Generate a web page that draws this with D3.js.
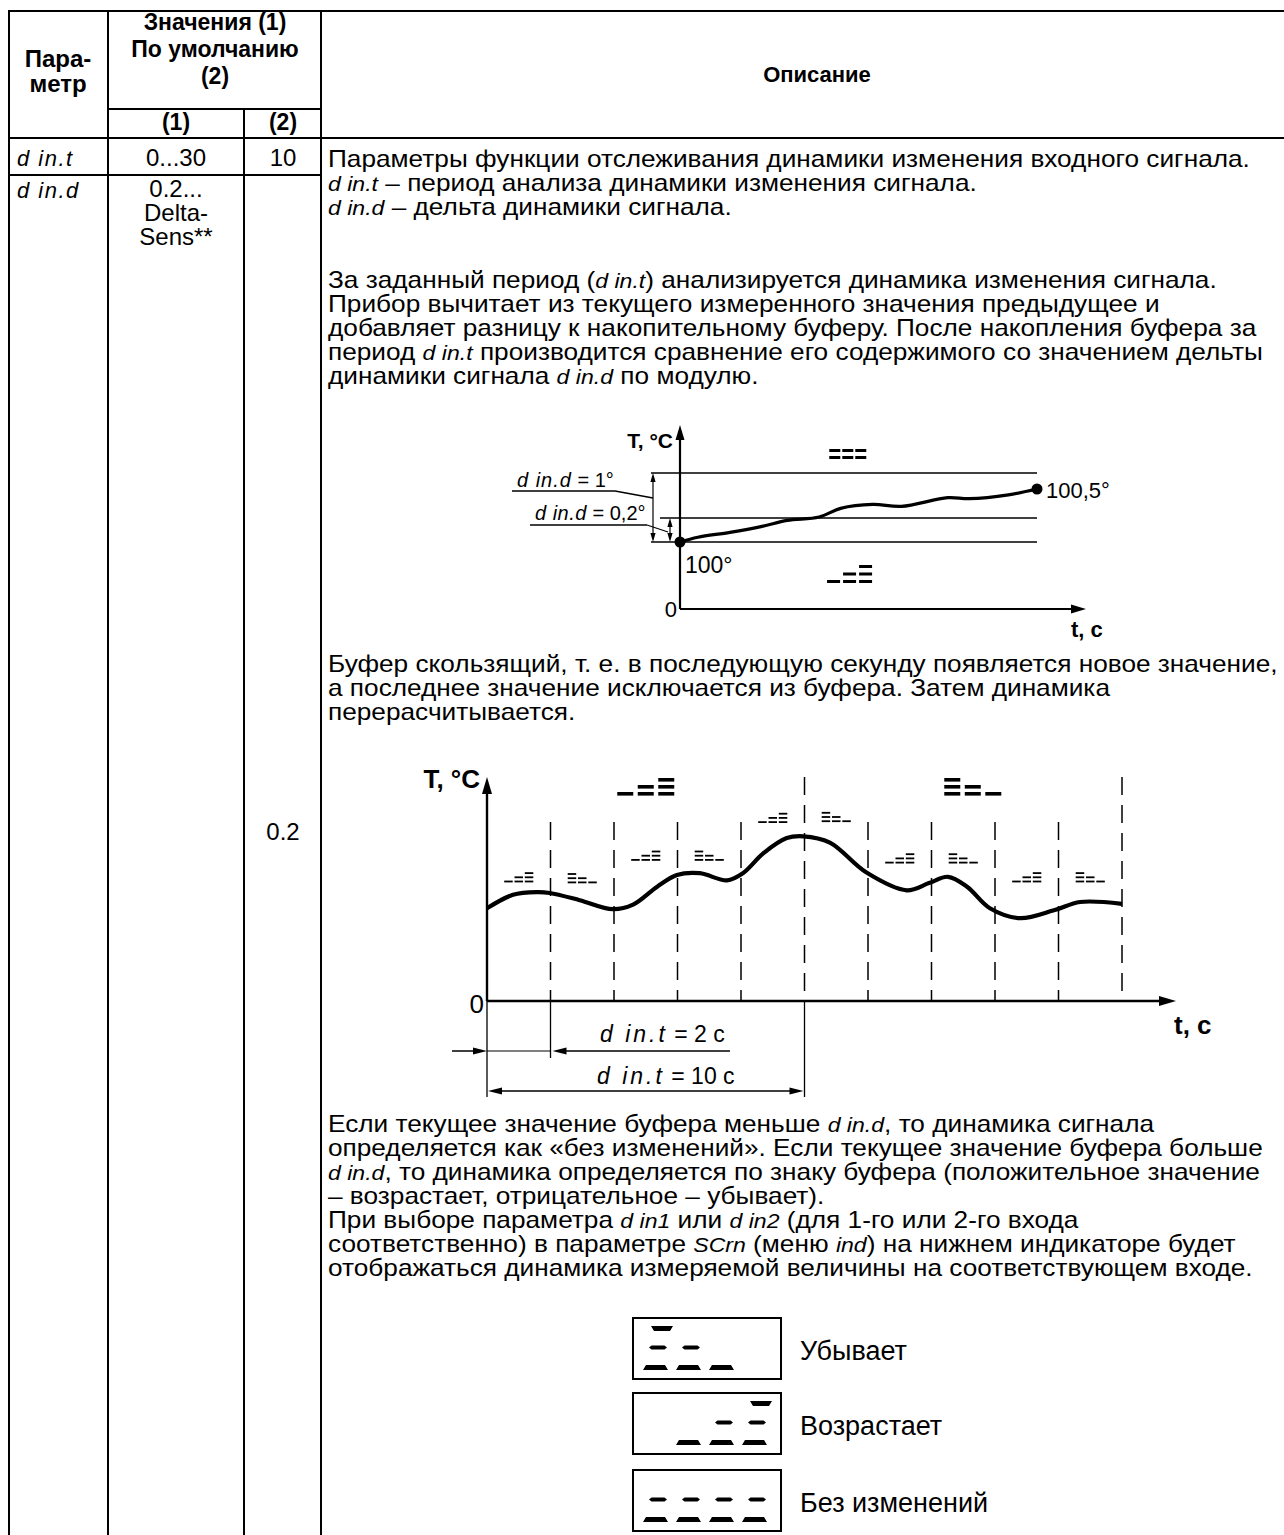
<!DOCTYPE html>
<html><head><meta charset="utf-8">
<script src="https://cdn.jsdelivr.net/npm/d3@7"></script>
<style>
body{margin:0;background:#fff}
svg{display:block}
text{font-family:"Liberation Sans",Arial,sans-serif;fill:#000}
</style>
</head><body>
<svg id="c" width="1284" height="1535"></svg>
<script>
// ---------------- DATA ----------------
const headerParam = ["Пара-", "метр"];
const headerValues = ["Значения (1)", "По умолчанию", "(2)"];
const subHeaders = ["(1)", "(2)"];
const descHeader = "Описание";
const paramNames = ["d in.t", "d in.d"];
const paramRanges = [["0...30"], ["0.2...", "Delta-", "Sens**"]];
const paramDefaults = ["10", "0.2"];

const descPara1 = [
  "Параметры функции отслеживания динамики изменения входного сигнала.",
  "{d in.t} – период анализа динамики изменения сигнала.",
  "{d in.d} – дельта динамики сигнала."
];
const descPara2 = [
  "За заданный период ({d in.t}) анализируется динамика изменения сигнала.",
  "Прибор вычитает из текущего измеренного значения предыдущее и",
  "добавляет разницу к накопительному буферу. После накопления буфера за",
  "период {d in.t} производится сравнение его содержимого со значением дельты",
  "динамики сигнала {d in.d} по модулю."
];
const descMiddle = [
  "Буфер скользящий, т. е. в последующую секунду появляется новое значение,",
  "а последнее значение исключается из буфера. Затем динамика",
  "перерасчитывается."
];
const descEnd = [
  "Если текущее значение буфера меньше {d in.d}, то динамика сигнала",
  "определяется как «без изменений». Если текущее значение буфера больше",
  "{d in.d}, то динамика определяется по знаку буфера (положительное значение",
  "– возрастает, отрицательное – убывает).",
  "При выборе параметра {d in1} или {d in2} (для 1-го или 2-го входа",
  "соответственно) в параметре {SCrn} (меню {ind}) на нижнем индикаторе будет",
  "отображаться динамика измеряемой величины на соответствующем входе."
];

// Diagram 1: signal from 100° to 100.5°, thresholds
const d1Time = [0, 0.5, 1.4, 2.3, 3.0, 3.9, 4.5, 5.4, 6.2, 7.5, 8.1, 9.2, 10];
const d1Temp = [100, 100.04, 100.08, 100.13, 100.18, 100.21, 100.3, 100.34, 100.32, 100.41, 100.40, 100.44, 100.5];
const d1Thresholds = [101, 100.2, 100];
const d1Labels = ["{d in.d} = 1°", "{d in.d} = 0,2°"];
const d1StartLabel = "100°";
const d1EndLabel = "100,5°";

// Diagram 2: sliding buffer
const d2Time = [0, 0.41, 0.79, 0.99, 1.46, 1.98, 2.3, 2.68, 2.99, 3.35, 3.78, 4.03, 4.35, 4.72, 4.98, 5.4, 5.97, 6.61, 6.96, 7.26, 7.56, 7.92, 8.39, 8.94, 9.34, 10];
const d2Temp = [10.3, 11.8, 12.1, 12.0, 11.2, 10.2, 10.7, 12.7, 14.0, 14.2, 13.4, 14.2, 16.4, 18.1, 18.3, 17.6, 14.3, 12.3, 13.1, 13.8, 12.7, 10.3, 9.2, 10.1, 11.0, 10.8];
const d2Marks = [1, 2, 3, 4, 5, 6, 7, 8, 9, 10];
const d2TallMarks = [5, 10];
const d2IntervalTrend = ["up", "down", "up", "down", "up", "down", "up", "down", "up", "down"];
const d2IntervalLevel = [13.2, 13.1, 15.6, 15.6, 19.8, 19.9, 15.3, 15.3, 13.2, 13.2];
const d2BigTrend = [{t: 2.5, trend: "up"}, {t: 7.65, trend: "down"}];
const d2Dim = [{from: 0, to: 1, label: "{d in.t} = 2 c"}, {from: 0, to: 5, label: "{d in.t} = 10 c"}];

const legendItems = [
  {label: "Убывает", digits: [["t","m","b"], ["m","b"], ["b"], []]},
  {label: "Возрастает", digits: [[], ["b"], ["m","b"], ["t","m","b"]]},
  {label: "Без изменений", digits: [["m","b"], ["m","b"], ["m","b"], ["m","b"]]}
];
const trendPatterns = {
  up: [["b"], ["m","b"], ["t","m","b"]],
  down: [["t","m","b"], ["m","b"], ["b"]],
  flat: [["m","b"], ["m","b"], ["m","b"]]
};

// ---------------- DRAW ----------------
const svg = d3.select("#c");
svg.append("rect").attr("width", 1284).attr("height", 1535).attr("fill", "#fff");

function addText(g, x, y, str, o = {}) {
  const t = g.append("text")
    .attr("transform", `translate(${x},${y}) scale(${o.sx || 1},1)`)
    .attr("text-anchor", o.anchor || "start")
    .style("font-size", (o.size || 22) + "px")
    .style("font-weight", o.weight || "normal")
    .style("white-space", "pre");
  str.split(/(\{[^}]*\})/).filter(s => s.length).forEach(p => {
    if (p[0] === "{") {
      t.append("tspan").style("font-style", "italic").style("font-weight", "normal")
        .style("font-size", (o.segSize || 0.88) + "em")
        .style("letter-spacing", (o.segLs || 0) + "px")
        .text(p.slice(1, -1));
    } else t.append("tspan").text(p);
  });
  return t;
}
function line(g, x1, y1, x2, y2, w = 1.5) {
  return g.append("line").attr("x1", x1).attr("y1", y1).attr("x2", x2).attr("y2", y2)
    .attr("stroke", "#000").attr("stroke-width", w);
}
function arrowHead(g, x, y, dir, len = 12, hw = 3.5) {
  let p;
  if (dir === "r") p = [[x, y], [x - len, y - hw], [x - len, y + hw]];
  if (dir === "l") p = [[x, y], [x + len, y - hw], [x + len, y + hw]];
  if (dir === "u") p = [[x, y], [x - hw, y + len], [x + hw, y + len]];
  if (dir === "d") p = [[x, y], [x - hw, y - len], [x + hw, y - len]];
  g.append("path").attr("d", "M" + p.map(q => q.join(",")).join("L") + "Z").attr("fill", "#000");
}
function trendIcon(g, cx, top, pattern, cw, gap, th, step) {
  const total = pattern.length * cw + (pattern.length - 1) * gap;
  const x0 = cx - total / 2;
  const off = {t: 0, m: step, b: 2 * step};
  pattern.forEach((segs, i) => {
    segs.forEach(s => {
      g.append("rect").attr("x", x0 + i * (cw + gap)).attr("y", top + off[s])
        .attr("width", cw).attr("height", th).attr("fill", "#000");
    });
  });
}

// calibration of body text width: first line spans 328 -> 1267, the "Буфер" line 328 -> 1280
const BODY = 23;
function natural(s) {
  const p = addText(svg, 0, -100, s, {size: BODY});
  const w = p.node().getComputedTextLength(); p.remove(); return w;
}
const SX = Math.min(939 / natural(descPara1[0]), 950 / natural(descMiddle[0]));

// ---- Table ----
const tbl = svg.append("g");
const TW = 2;
line(tbl, 9, 11, 1284, 11, TW);
line(tbl, 9, 138, 1284, 138, TW);
line(tbl, 108, 109, 321, 109, TW);
line(tbl, 9, 175, 321, 175, TW);
line(tbl, 9, 10, 9, 1535, TW);
line(tbl, 108, 10, 108, 1535, TW);
line(tbl, 244, 109, 244, 1535, TW);
line(tbl, 321, 10, 321, 1535, TW);

headerParam.forEach((s, i) => addText(tbl, 58, 67 + i * 25, s, {size: 24, weight: "bold", anchor: "middle"}));
headerValues.forEach((s, i) => addText(tbl, 215, 30 + i * 27, s, {size: 23, weight: "bold", anchor: "middle"}));
subHeaders.forEach((s, i) => addText(tbl, [176, 283][i], 130, s, {size: 23, weight: "bold", anchor: "middle"}));
addText(tbl, 817, 82, descHeader, {size: 22, weight: "bold", anchor: "middle"});

paramNames.forEach((s, i) => addText(tbl, 17, [166, 198][i], "{" + s + "}", {size: 22, segSize: 1, segLs: 1.5}));
paramRanges.forEach((arr, i) => arr.forEach((s, j) =>
  addText(tbl, 176, [166, 197][i] + j * 24, s, {size: 24, anchor: "middle"})));
addText(tbl, 283, 166, paramDefaults[0], {size: 24, anchor: "middle"});
addText(tbl, 283, 840, paramDefaults[1], {size: 24, anchor: "middle"});

// ---- Body text ----
const body = svg.append("g");
function para(lines, y0) {
  lines.forEach((s, i) => addText(body, 328, y0 + i * 24, s, {size: BODY, sx: SX}));
}
para(descPara1, 167);
para(descPara2, 288);
para(descMiddle, 672);
para(descEnd, 1132);

// ---- Diagram 1 ----
const g1 = svg.append("g");
const x1 = d3.scaleLinear().domain([0, 10]).range([680, 1037]);
const y1 = d3.scaleLinear().domain([100, 100.2, 100.5, 101]).range([542, 518, 489, 473]);
const base1 = 609;
line(g1, x1(0), base1, 1072, base1, 2.2);
arrowHead(g1, 1086, base1, "r", 15, 4.5);
line(g1, x1(0), base1, x1(0), 440, 2.2);
arrowHead(g1, x1(0), 425, "u", 15, 4.5);
const thStart = [651, 660, 651];
d1Thresholds.forEach((v, i) => line(g1, thStart[i], y1(v), x1(10), y1(v), 1.3));
[[653, 101], [670, 100.2]].forEach(([xx, v]) => {
  line(g1, xx, y1(v) + 8, xx, y1(100) - 8, 1.2);
  arrowHead(g1, xx, y1(v), "u", 9, 2.6);
  arrowHead(g1, xx, y1(100), "d", 9, 2.6);
});
line(g1, 512, 491, 615, 491, 1.3); line(g1, 615, 491, 653, 498, 1.3);
line(g1, 530, 525, 647, 525, 1.3); line(g1, 647, 525, 668, 532, 1.3);
addText(g1, 517, 487, d1Labels[0], {size: 20, segSize: 1, segLs: 1});
addText(g1, 535, 520, d1Labels[1], {size: 20, segSize: 1, segLs: 0.5});
const d1Data = d1Time.map((t, i) => [t, d1Temp[i]]);
g1.append("path").datum(d1Data)
  .attr("d", d3.line().x(d => x1(d[0])).y(d => y1(d[1])).curve(d3.curveCatmullRom.alpha(0.5)))
  .attr("fill", "none").attr("stroke", "#000").attr("stroke-width", 3.2);
[d1Data[0], d1Data[d1Data.length - 1]].forEach(d =>
  g1.append("circle").attr("cx", x1(d[0])).attr("cy", y1(d[1])).attr("r", 5.5).attr("fill", "#000"));
addText(g1, 685, 573, d1StartLabel, {size: 23});
addText(g1, 1046, 498, d1EndLabel, {size: 22});
addText(g1, 673, 448, "T, °C", {size: 21, weight: "bold", anchor: "end"});
addText(g1, 677, 617, "0", {size: 22, anchor: "end"});
addText(g1, 1071, 637, "t, c", {size: 22, weight: "bold"});
trendIcon(g1, x1(4.7), y1(101) - 31, trendPatterns.flat, 11, 2, 3, 7);
trendIcon(g1, x1(4.75), y1(100) + 23, trendPatterns.up, 13, 3, 3, 7.5);

// ---- Diagram 2 ----
const g2 = svg.append("g");
const x2 = d3.scaleLinear().domain([0, 10]).range([487, 1122]);
const y2 = d3.scaleLinear().domain([0, 25]).range([1001, 776]);
d2Marks.forEach(t => {
  const top = d2TallMarks.includes(t) ? 777 : 822;
  g2.append("line").attr("x1", x2(t)).attr("x2", x2(t)).attr("y1", top).attr("y2", y2(0))
    .attr("stroke", "#000").attr("stroke-width", 1.5).attr("stroke-dasharray", "18,10");
});
line(g2, x2(0), y2(0), 1160, y2(0), 2.4);
arrowHead(g2, 1176, y2(0), "r", 17, 5);
line(g2, x2(0), y2(0), x2(0), 792, 2.4);
arrowHead(g2, x2(0), 777, "u", 17, 5);
const d2Data = d2Time.map((t, i) => [t, d2Temp[i]]);
g2.append("path").datum(d2Data)
  .attr("d", d3.line().x(d => x2(d[0])).y(d => y2(d[1])).curve(d3.curveCatmullRom.alpha(0.5)))
  .attr("fill", "none").attr("stroke", "#000").attr("stroke-width", 4.2);
d2IntervalTrend.forEach((tr, i) =>
  trendIcon(g2, x2(i + 0.5), y2(d2IntervalLevel[i]) - 10, trendPatterns[tr], 8.5, 1.8, 1.8, 4.2));
d2BigTrend.forEach(d => trendIcon(g2, x2(d.t), 778, trendPatterns[d.trend], 16, 4.5, 3.6, 7));
addText(g2, 480, 788, "T, °C", {size: 26, weight: "bold", anchor: "end"});
addText(g2, 484, 1013, "0", {size: 26, anchor: "end"});
addText(g2, 1174, 1034, "t, c", {size: 26, weight: "bold"});
line(g2, x2(0), y2(0), x2(0), 1097, 1.3);
line(g2, x2(1), y2(0), x2(1), 1058, 1.3);
line(g2, x2(5), y2(0), x2(5), 1097, 1.3);
line(g2, 452, 1051, x2(0) - 10, 1051, 1.5);
arrowHead(g2, x2(0), 1051, "r", 14, 3.5);
line(g2, x2(0), 1051, x2(1), 1051, 1.2);
line(g2, x2(1) + 10, 1051, 730, 1051, 1.5);
arrowHead(g2, x2(1) + 2, 1051, "l", 14, 3.5);
addText(g2, 600, 1042, d2Dim[0].label, {size: 23, segSize: 1, segLs: 3});
line(g2, x2(0) + 10, 1091, x2(5) - 10, 1091, 1.5);
arrowHead(g2, x2(0) + 1, 1091, "l", 14, 3.5);
arrowHead(g2, x2(5) - 1, 1091, "r", 14, 3.5);
addText(g2, 597, 1084, d2Dim[1].label, {size: 23, segSize: 1, segLs: 3});

// ---- Legend indicator boxes ----
const lg = svg.append("g");
const segShapes = {
  t: [[8, 8], [30, 8], [27, 13], [11, 13]],
  m: [[6, 29.5], [8.5, 27.5], [21.5, 27.5], [24, 29.5], [21.5, 31.5], [8.5, 31.5]],
  b: [[3, 47], [22, 47], [25, 52], [0, 52]]
};
const boxTops = [1318, 1393, 1470];
legendItems.forEach((it, k) => {
  const by = boxTops[k];
  lg.append("rect").attr("x", 633).attr("y", by).attr("width", 148).attr("height", 61)
    .attr("fill", "none").attr("stroke", "#000").attr("stroke-width", 2);
  it.digits.forEach((segs, i) => {
    const ox = 643 + i * 33;
    segs.forEach(s => lg.append("path")
      .attr("d", "M" + segShapes[s].map(p => [ox + p[0], by + p[1]].join(",")).join("L") + "Z")
      .attr("fill", "#000"));
  });
  addText(lg, 800, by + 42, it.label, {size: 27});
});
</script>
</body></html>
